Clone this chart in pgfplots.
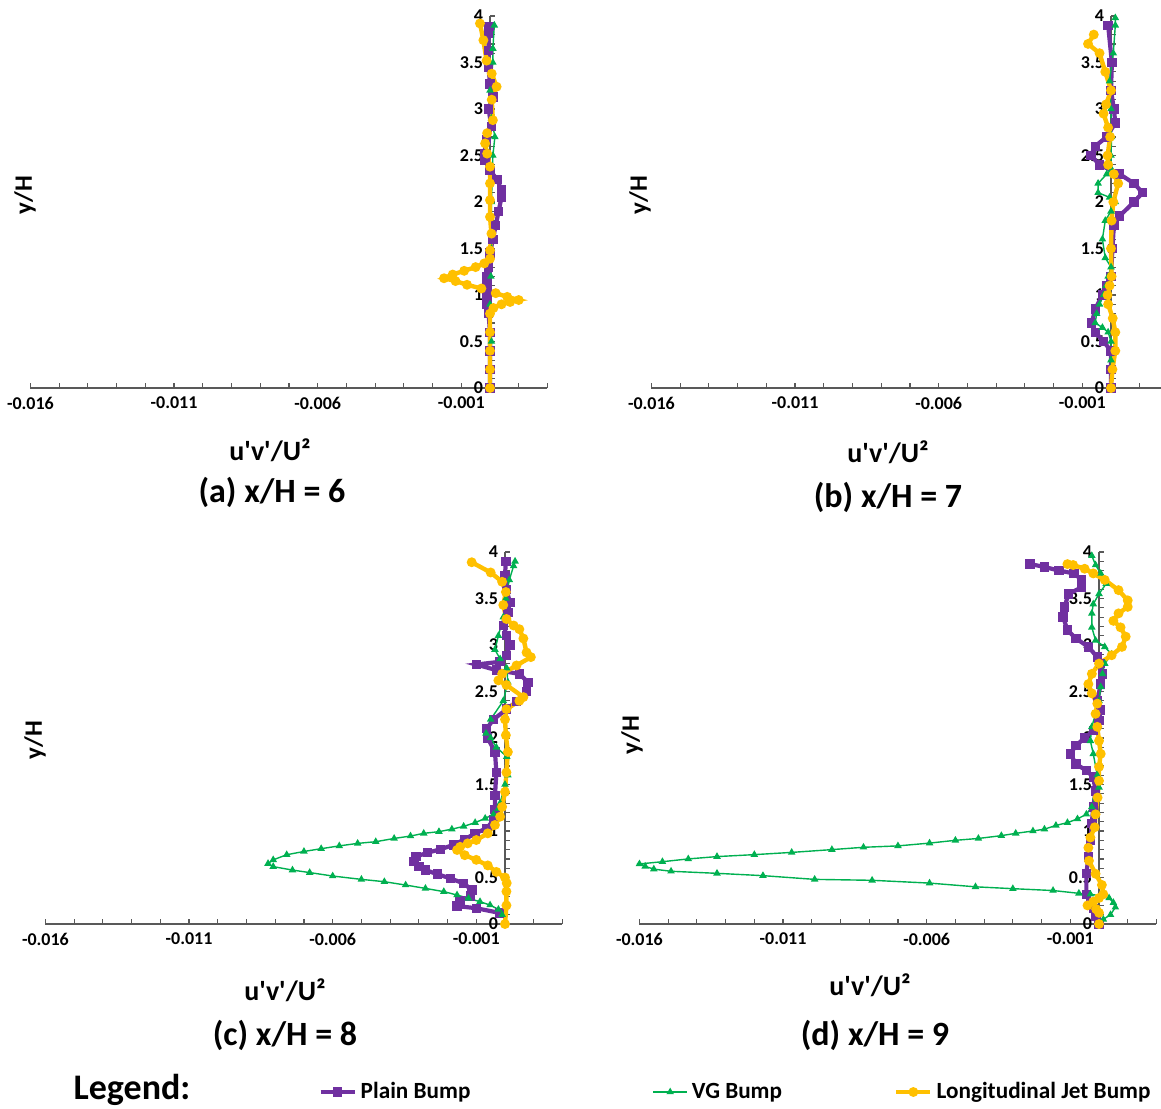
\documentclass[border=0pt]{standalone}
\usepackage{fontspec}
\setmainfont{Carlito}
\usepackage{pgfplots}
\pgfplotsset{compat=1.18}
\definecolor{cP}{HTML}{7030A0}
\definecolor{cG}{HTML}{00B050}
\definecolor{cY}{HTML}{FFC000}
\definecolor{axc}{HTML}{595959}
\pgfplotsset{
 panel/.style={
  scale only axis, width=258.5pt, height=186pt,
  xmin=-0.016, xmax=0.002, ymin=0, ymax=4,
  anchor=origin, clip=false,
  axis x line=bottom, axis y line=middle,
  axis line style={-, draw=axc, line width=0.6pt},
  xtick={-0.016,-0.011,-0.006,-0.001},
  xticklabels={-0.016,-0.011,-0.006,-0.001},
  minor xtick={-0.015,-0.014,-0.013,-0.012,-0.010,-0.009,-0.008,-0.007,-0.005,-0.004,-0.003,-0.002,0,0.001,0.002},
  ytick={0,0.5,1,1.5,2,2.5,3,3.5,4},
  yticklabels={0,0.5,1,1.5,2,2.5,3,3.5,4},
  minor ytick={0.1,0.2,0.3,0.4,0.6,0.7,0.8,0.9,1.1,1.2,1.3,1.4,1.6,1.7,1.8,1.9,2.1,2.2,2.3,2.4,2.6,2.7,2.8,2.9,3.1,3.2,3.3,3.4,3.6,3.7,3.8,3.9},
  tick style={draw=axc, line width=0.6pt},
  major tick length=2.6pt, minor tick length=2.6pt,
  xtick align=inside, ytick align=inside,
  hide obscured y ticks=false, hide obscured x ticks=false,
  scaled x ticks=false, scaled y ticks=false,
  ticklabel style={font=\bfseries\fontsize{9}{10}\selectfont, text=black},
  xticklabel style={yshift=-1pt},
 },
 pP/.style={color=cP, line width=2.1pt, mark=square*, mark size=1.3pt, mark options={solid}},
 pG/.style={color=cG, line width=0.7pt, mark=triangle*, mark size=1.5pt, mark options={solid}},
 pY/.style={color=cY, line width=2.2pt, mark=*, mark size=1.3pt, mark options={solid}},
}
\newcommand{\xl}{u\textquotesingle v\textquotesingle/U²}
\begin{document}
\begin{tikzpicture}
\path[use as bounding box] (0,0) rectangle (580.5pt,-554pt);
% ---------- (a)
\begin{axis}[panel, at={(245pt,-194pt)}]
\addplot[pP] table {
0 0
0 0.2
0 0.4
0 0.6
-0.00005 0.8
-0.0001 0.9
-0.0001 1.0
-0.0001 1.1
-0.0001 1.2
-0.00005 1.3
0 1.45
0.0001 1.6
0.0002 1.75
0.0003 1.9
0.0004 2.05
0.0004 2.13
0.00025 2.24
0 2.34
-0.00017 2.45
-0.0002 2.52
-0.00012 2.67
0.00005 2.81
-0.00005 3.0
0.0001 3.13
0 3.27
-0.00005 3.45
-0.00005 3.63
-0.00005 3.81
-0.00003 3.89
};
\addplot[pG] table {
0 0
0.00005 0.5
0 0.9
0.00003 1.2
0.00005 1.5
0.00005 2.0
0.0001 2.5
0.00017 2.7
0.00005 2.9
0 3.2
0.0001 3.5
0.0001 3.65
0.00015 3.9
};
\addplot[pY] table {
0 0
0 0.2
0 0.4
0 0.6
0 0.8
0.00012 0.86
0.0004 0.9
0.0007 0.925
0.001 0.946
0.0006 0.98
0.0002 1.02
-0.0003 1.07
-0.0008 1.11
-0.0012 1.15
-0.0016 1.18
-0.0013 1.22
-0.0009 1.26
-0.0005 1.3
-0.0002 1.34
0 1.39
0 1.48
0.00005 1.66
0 1.84
0 2.02
0 2.2
0 2.38
-0.0001 2.52
-0.00017 2.63
-0.0001 2.74
0.0001 2.88
0.00006 3.1
0.00023 3.24
0.00006 3.38
-0.00012 3.52
-0.00023 3.74
-0.00035 3.92
};
\end{axis}
% ---------- (b)
\begin{axis}[panel, at={(555.5pt,-194pt)}]
\addplot[pP] table {
0 0
0 0.2
0 0.4
-0.00026 0.5
-0.00055 0.6
-0.00067 0.7
-0.00055 0.85
-0.0003 1.0
-0.00014 1.1
0 1.2
0.00005 1.5
0.0001 1.75
0.0003 1.85
0.0008 2.0
0.0011 2.1
0.0008 2.2
0.0003 2.3
-0.0004 2.4
-0.0007 2.5
-0.00055 2.6
-0.00015 2.7
0.00015 2.85
0.0001 3.0
0 3.2
0.00003 3.5
-0.0001 3.9
};
\addplot[pG] table {
0 0
0 0.3
0 0.5
-0.0001 0.6
-0.0003 0.65
-0.00055 0.7
-0.0005 0.8
-0.0004 0.9
-0.00026 1.0
-0.00017 1.1
-0.0001 1.2
0 1.3
-0.0002 1.4
-0.0003 1.6
-0.0002 1.8
0 1.9
0.00015 2.0
-0.00005 2.05
-0.00045 2.1
-0.00045 2.2
-0.00015 2.3
0.00002 2.35
0 2.5
0.00002 2.7
0 3.0
-0.00005 3.3
0.00008 3.6
0.00015 3.9
0.00015 3.98
};
\addplot[pY] table {
0 0
0.00005 0.2
0.00015 0.4
0.00015 0.6
0.00006 0.75
-0.0001 0.9
-0.00012 1.0
-0.00005 1.1
0.00002 1.2
0 1.5
0.00002 1.8
0.00008 2.0
0.00025 2.2
0.0001 2.3
-0.0001 2.4
-0.00012 2.5
-0.00003 2.7
-0.0001 2.8
-0.00026 2.95
-0.00017 3.05
0 3.2
-0.0002 3.4
-0.0004 3.6
-0.0008 3.7
-0.0006 3.8
};
\end{axis}
% ---------- (c)
\begin{axis}[panel, at={(252.5pt,-462pt)}]
\addplot[pP] table {
-0.0002 0.12
-0.001 0.17
-0.00167 0.193
-0.00156 0.247
-0.0012 0.30
-0.00115 0.366
-0.00144 0.437
-0.0019 0.49
-0.00236 0.537
-0.00277 0.58
-0.003 0.616
-0.00317 0.67
-0.0031 0.724
-0.0027 0.767
-0.00225 0.803
-0.0018 0.85
-0.0014 0.91
-0.00104 0.975
-0.00063 1.03
-0.0004 1.12
-0.00035 1.23
-0.00035 1.38
-0.0003 1.63
-0.00035 1.85
-0.0006 2.0
-0.00064 2.1
-0.0004 2.2
0.00006 2.31
0.0004 2.39
0.00075 2.5
0.0008 2.6
0.0005 2.69
-0.0003 2.73
-0.001 2.79
-0.00017 2.82
0.00006 2.89
0.00017 3.0
0.00006 3.1
-0.00005 3.21
0.0001 3.35
0.00017 3.46
0.00005 3.6
0 3.75
0.00003 3.9
};
\addplot[pG] table {
-0.0001 0.1
-0.00023 0.157
-0.00052 0.204
-0.00087 0.24
-0.00127 0.276
-0.00167 0.312
-0.00213 0.348
-0.00277 0.383
-0.00346 0.419
-0.0042 0.455
-0.005 0.48
-0.006 0.516
-0.0068 0.553
-0.0074 0.58
-0.00807 0.617
-0.00825 0.65
-0.00807 0.69
-0.0076 0.745
-0.007 0.78
-0.0064 0.81
-0.00577 0.84
-0.00513 0.867
-0.0045 0.885
-0.00386 0.92
-0.00329 0.946
-0.00283 0.975
-0.0023 0.993
-0.00185 1.02
-0.00144 1.05
-0.00104 1.09
-0.00069 1.136
-0.0004 1.18
-0.00023 1.24
-0.00017 1.3
0 1.5
0.0001 1.6
0.00006 1.8
-0.0003 1.9
-0.0005 2.0
-0.00066 2.05
-0.0005 2.2
-0.00006 2.4
0.0001 2.6
0.00006 2.75
-0.00017 2.85
-0.00035 2.95
-0.00023 3.1
-0.00006 3.3
0.00003 3.5
0.00015 3.7
0.0003 3.85
0.00035 3.9
};
\addplot[pY] table {
0 0
0.00005 0.2
0.00005 0.35
0.00006 0.44
0 0.5
-0.0003 0.56
-0.0006 0.63
-0.001 0.69
-0.0014 0.74
-0.00167 0.796
-0.00156 0.83
-0.0013 0.867
-0.001 0.903
-0.0006 0.975
-0.00035 1.065
-0.00017 1.154
-0.0001 1.26
0 1.42
0.00005 1.63
0.0001 1.85
0.00003 2.03
0 2.2
0.00005 2.31
0.0005 2.4
0.00064 2.44
0.00005 2.57
-0.00023 2.62
-0.0001 2.69
0.0004 2.78
0.0009 2.87
0.00075 2.92
0.00064 3.07
0.0005 3.17
0.0003 3.21
0.00005 3.28
-0.00006 3.43
0.00003 3.57
-0.0001 3.68
-0.0005 3.78
-0.00116 3.89
};
\end{axis}
% ---------- (d)
\begin{axis}[panel, at={(549.5pt,-462pt)}]
\addplot[pP] table {
0 0
-0.0001 0.08
-0.0002 0.17
-0.0003 0.23
-0.00044 0.32
-0.00044 0.54
-0.00037 0.72
-0.0003 0.9
-0.00025 1.08
-0.0002 1.26
-0.00012 1.43
-0.0002 1.58
-0.00044 1.65
-0.0008 1.72
-0.001 1.83
-0.0008 1.92
-0.0005 2.0
-0.0002 2.08
0 2.19
0.00006 2.3
-0.00006 2.4
0.00006 2.58
0.00012 2.69
0.00006 2.8
-0.00006 2.87
-0.00037 2.98
-0.0008 3.07
-0.0011 3.16
-0.00125 3.3
-0.0012 3.41
-0.00106 3.55
-0.0006 3.62
-0.0006 3.7
-0.00087 3.77
-0.0014 3.8
-0.0019 3.84
-0.0024 3.87
};
\addplot[pG] table {
0.00015 0.05
0.0004 0.1
0.00057 0.18
0.0005 0.23
0.00035 0.28
0.0001 0.3
-0.0003 0.32
-0.0007 0.33
-0.0016 0.36
-0.003 0.38
-0.0043 0.4
-0.0059 0.44
-0.0079 0.47
-0.0099 0.48
-0.0117 0.52
-0.0133 0.545
-0.0149 0.567
-0.0155 0.59
-0.0158 0.62
-0.016 0.646
-0.0152 0.67
-0.0143 0.70
-0.0133 0.725
-0.012 0.746
-0.0107 0.77
-0.0093 0.8
-0.0082 0.825
-0.007 0.84
-0.0059 0.87
-0.005 0.9
-0.0042 0.92
-0.0034 0.95
-0.0029 0.975
-0.0023 1.0
-0.0019 1.02
-0.0015 1.06
-0.0011 1.09
-0.00075 1.13
-0.00044 1.18
-0.00025 1.26
-0.00012 1.36
0 1.47
-0.00006 1.6
-0.0002 1.83
-0.0003 1.97
-0.00025 2.12
-0.00012 2.26
0 2.4
0.00006 2.55
0.00012 2.69
0.0002 2.8
0.00044 2.9
0.0002 2.98
-0.00012 3.05
-0.00025 3.19
-0.00025 3.34
-0.0002 3.44
0 3.55
0.00025 3.66
0.00006 3.77
-0.00012 3.86
-0.00025 3.96
};
\addplot[pY] table {
0 0
0 0.12
-0.0001 0.16
-0.0004 0.2
-0.0002 0.24
0 0.28
0.00015 0.32
0.0001 0.42
-0.00012 0.54
-0.00035 0.68
-0.00037 0.82
-0.0003 0.93
-0.00015 1.04
-0.00012 1.18
-0.00005 1.36
0 1.54
0 1.69
0.00006 1.83
0 1.97
-0.00006 2.12
-0.00012 2.26
-0.00006 2.37
-0.00025 2.48
-0.00037 2.58
-0.00025 2.69
0 2.8
0.00044 2.89
0.0008 2.98
0.00093 3.09
0.00075 3.19
0.0005 3.26
0.00068 3.34
0.001 3.41
0.001 3.48
0.00068 3.59
0.0002 3.7
-0.0002 3.77
-0.0005 3.82
-0.0009 3.86
-0.0011 3.87
};
\end{axis}
% ---------- legend
\begin{axis}[hide axis, scale only axis, width=1pt, height=1pt,
  xmin=0, xmax=1, ymin=0, ymax=1, at={(159pt,-546pt)}, anchor=center,
  legend columns=3, legend cell align=left,
  legend style={at={(0.5,0.5)}, anchor=west, draw=none, fill=none, inner sep=0pt,
    font=\bfseries\fontsize{11.6}{13}\selectfont,
    /tikz/column 2/.style={column sep=89pt},
    /tikz/column 4/.style={column sep=54pt}}]
\addlegendimage{pP}\addlegendentry{Plain Bump}
\addlegendimage{pG}\addlegendentry{VG Bump}
\addlegendimage{pY}\addlegendentry{Longitudinal Jet Bump}
\end{axis}
% ---------- labels
\begin{scope}[every node/.style={font=\bfseries}]
\node[rotate=90, font=\bfseries\fontsize{12.5}{14}\selectfont] at (12.5pt,-97.5pt) {y/H};
\node[rotate=90, font=\bfseries\fontsize{12.5}{14}\selectfont] at (320pt,-97.5pt) {y/H};
\node[rotate=90, font=\bfseries\fontsize{12.5}{14}\selectfont] at (17.5pt,-370pt) {y/H};
\node[rotate=90, font=\bfseries\fontsize{12.5}{14}\selectfont] at (316pt,-367.5pt) {y/H};
\node[font=\bfseries\fontsize{14}{16}\selectfont] at (135pt,-225pt) {\xl};
\node[font=\bfseries\fontsize{14}{16}\selectfont] at (444pt,-226pt) {\xl};
\node[font=\bfseries\fontsize{14}{16}\selectfont] at (142.5pt,-495pt) {\xl};
\node[font=\bfseries\fontsize{14}{16}\selectfont] at (435pt,-492.5pt) {\xl};
\node[font=\bfseries\fontsize{17}{19}\selectfont] at (136pt,-246pt) {(a) x/H = 6};
\node[font=\bfseries\fontsize{17}{19}\selectfont] at (444pt,-248.5pt) {(b) x/H = 7};
\node[font=\bfseries\fontsize{17}{19}\selectfont] at (142.5pt,-517.5pt) {(c) x/H = 8};
\node[font=\bfseries\fontsize{17}{19}\selectfont] at (437.5pt,-517.5pt) {(d) x/H = 9};
\node[font=\bfseries\fontsize{18}{20}\selectfont] at (66pt,-545pt) {Legend:};
\end{scope}
\end{tikzpicture}
\end{document}
